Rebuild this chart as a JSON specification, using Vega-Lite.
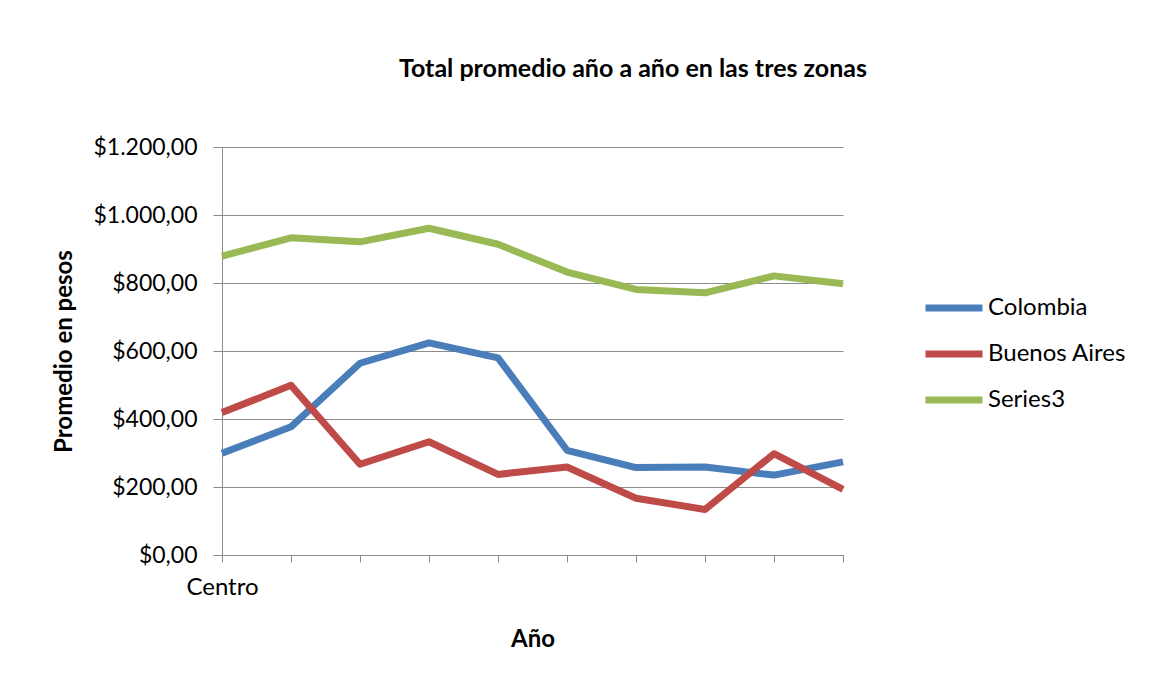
{
  "$schema": "https://vega.github.io/schema/vega-lite/v6.json",
  "autosize": {"type": "none"},
  "width": 621,
  "height": 408,
  "padding": {"left": 222, "top": 147, "right": 314, "bottom": 128},
  "background": "white",
  "title": {
    "text": "Total promedio año a año en las tres zonas",
    "anchor": "start",
    "frame": "group",
    "dx": 177,
    "offset": 54,
    "font": "Lato",
    "fontSize": 25,
    "fontWeight": "bold",
    "color": "#000000"
  },
  "config": {
    "locale": {
      "number": {"decimal": ",", "thousands": ".", "grouping": [3], "currency": ["$", ""]}
    },
    "view": {"stroke": null},
    "font": "Lato"
  },
  "data": {
    "values": [
      {"punto": 1, "serie": "Colombia", "promedio": 299},
      {"punto": 2, "serie": "Colombia", "promedio": 377},
      {"punto": 3, "serie": "Colombia", "promedio": 564},
      {"punto": 4, "serie": "Colombia", "promedio": 624},
      {"punto": 5, "serie": "Colombia", "promedio": 580},
      {"punto": 6, "serie": "Colombia", "promedio": 308},
      {"punto": 7, "serie": "Colombia", "promedio": 257},
      {"punto": 8, "serie": "Colombia", "promedio": 259},
      {"punto": 9, "serie": "Colombia", "promedio": 235},
      {"punto": 10, "serie": "Colombia", "promedio": 274},
      {"punto": 1, "serie": "Buenos Aires", "promedio": 419},
      {"punto": 2, "serie": "Buenos Aires", "promedio": 499},
      {"punto": 3, "serie": "Buenos Aires", "promedio": 267},
      {"punto": 4, "serie": "Buenos Aires", "promedio": 333},
      {"punto": 5, "serie": "Buenos Aires", "promedio": 237},
      {"punto": 6, "serie": "Buenos Aires", "promedio": 259},
      {"punto": 7, "serie": "Buenos Aires", "promedio": 167},
      {"punto": 8, "serie": "Buenos Aires", "promedio": 134},
      {"punto": 9, "serie": "Buenos Aires", "promedio": 298},
      {"punto": 10, "serie": "Buenos Aires", "promedio": 193},
      {"punto": 1, "serie": "Series3", "promedio": 879},
      {"punto": 2, "serie": "Series3", "promedio": 933},
      {"punto": 3, "serie": "Series3", "promedio": 921},
      {"punto": 4, "serie": "Series3", "promedio": 961},
      {"punto": 5, "serie": "Series3", "promedio": 914},
      {"punto": 6, "serie": "Series3", "promedio": 832},
      {"punto": 7, "serie": "Series3", "promedio": 781},
      {"punto": 8, "serie": "Series3", "promedio": 771},
      {"punto": 9, "serie": "Series3", "promedio": 821},
      {"punto": 10, "serie": "Series3", "promedio": 798}
    ]
  },
  "mark": {"type": "line", "strokeWidth": 7, "strokeJoin": "round", "strokeCap": "butt"},
  "encoding": {
    "x": {
      "field": "punto",
      "type": "quantitative",
      "scale": {"domain": [1, 10], "nice": false, "zero": false},
      "axis": {
        "title": "Año",
        "values": [1, 2, 3, 4, 5, 6, 7, 8, 9, 10],
        "labelExpr": "datum.value == 1 ? 'Centro' : ''",
        "grid": false,
        "domainColor": "#8c8c8c",
        "tickColor": "#8c8c8c",
        "tickSize": 7,
        "labelPadding": 13,
        "labelFontSize": 24,
        "labelColor": "#000000",
        "labelFont": "Lato",
        "titleFont": "Lato",
        "titleFontSize": 24,
        "titleFontWeight": "bold",
        "titleColor": "#000000",
        "titlePadding": 28,
        "labelFlush": false
      }
    },
    "y": {
      "field": "promedio",
      "type": "quantitative",
      "scale": {"domain": [0, 1200], "nice": false},
      "axis": {
        "title": "Promedio en pesos",
        "values": [0, 200, 400, 600, 800, 1000, 1200],
        "format": "$,.2f",
        "grid": true,
        "gridColor": "#8c8c8c",
        "domainColor": "#8c8c8c",
        "tickColor": "#8c8c8c",
        "tickSize": 9,
        "labelPadding": 16,
        "labelFontSize": 23,
        "labelColor": "#000000",
        "labelFont": "Lato",
        "titleFont": "Lato",
        "titleFontSize": 24,
        "titleFontWeight": "bold",
        "titleColor": "#000000",
        "titlePadding": 16
      }
    },
    "color": {
      "field": "serie",
      "type": "nominal",
      "sort": ["Colombia", "Buenos Aires", "Series3"],
      "scale": {"domain": ["Colombia", "Buenos Aires", "Series3"], "range": ["#4a7ebb", "#be4b48", "#98b954"]},
      "legend": {
        "title": null,
        "orient": "none",
        "legendX": 700,
        "legendY": 129,
        "symbolType": "stroke",
        "symbolSize": 3249,
        "symbolStrokeWidth": 7,
        "labelFontSize": 24,
        "labelFont": "Lato",
        "labelColor": "#000000",
        "labelOffset": 2,
        "rowPadding": 0
      }
    }
  }
}
